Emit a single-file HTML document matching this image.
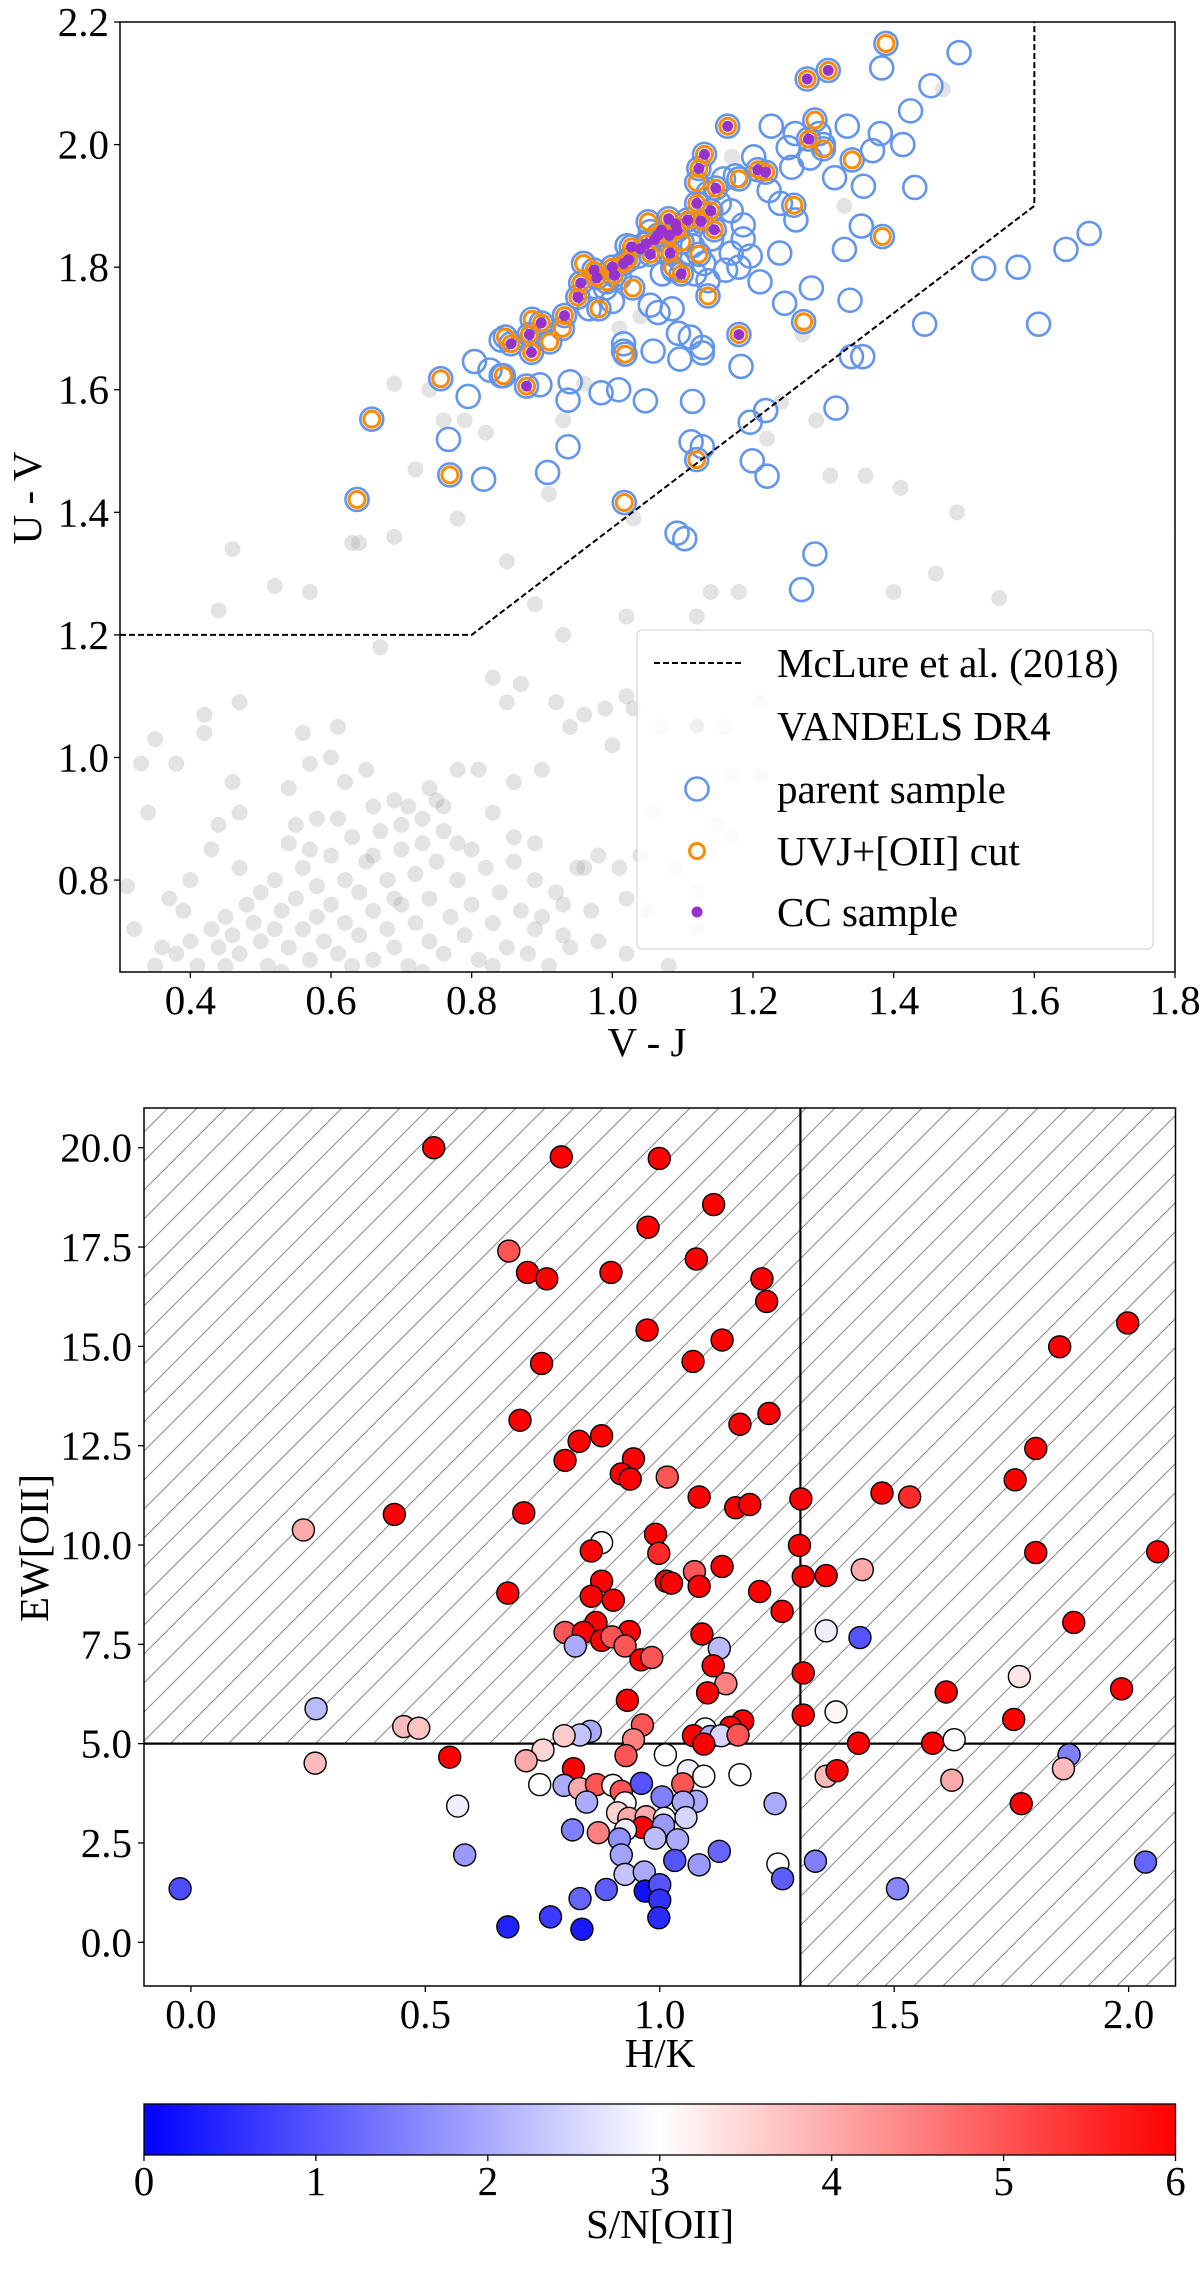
<!DOCTYPE html>
<html><head><meta charset="utf-8"><title>UVJ and H/K diagnostics</title>
<style>
html,body{margin:0;padding:0;background:#fff;}
svg{display:block;font-family:"Liberation Serif","DejaVu Serif",serif;}
</style></head>
<body>
<svg id="fig" width="1200" height="2285" viewBox="0 0 1200 2285" xmlns="http://www.w3.org/2000/svg">
<defs>
<pattern id="hatch" patternUnits="userSpaceOnUse" width="29" height="29">
<line x1="0" y1="29" x2="29" y2="0" stroke="#8a8a8a" stroke-width="1"/>
<line x1="-2" y1="2" x2="2" y2="-2" stroke="#8a8a8a" stroke-width="1"/>
<line x1="27" y1="31" x2="31" y2="27" stroke="#8a8a8a" stroke-width="1"/>
</pattern>
<linearGradient id="bwr" x1="0" y1="0" x2="1" y2="0">
<stop offset="0" stop-color="#0000ff"/><stop offset="0.5" stop-color="#ffffff"/><stop offset="1" stop-color="#ff0000"/>
</linearGradient>
<clipPath id="clipTop"><rect x="120" y="22" width="1055" height="950"/></clipPath>
<clipPath id="clipBot"><rect x="144" y="1108" width="1031.5" height="878"/></clipPath>
</defs>
</svg>
<script>
// ---------- Top panel data ----------
const grayVJ=[0.63,0.64,0.46,0.52,0.44,0.57,0.69,0.78,0.67,0.85,0.91,0.93,1.03,0.89,1.02,1.12,1.14,1.18,1.31,1.36,1.41,1.49,1.46,1.40,1.55,1.81,0.79,0.76,0.72,0.74,0.69,0.82,0.93,0.96,1.01,1.04,1.27,1.29,1.24,1.22,1.33,1.47,1.17,
0.35,0.33,0.38,0.34,0.42,0.42,0.47,0.46,0.44,0.37,0.40,0.31,0.47,0.56,0.61,0.54,0.57,0.55,0.60,0.62,0.65,0.66,0.69,0.70,0.73,0.74,0.75,0.76,0.78,0.81,0.83,0.86,0.86,0.89,0.90,0.92,0.94,0.96,0.99,1.02,1.03,1.00,0.87,0.83,0.85,1.07,1.12,1.16,1.21,1.17,1.21,1.15,1.06,0.98,0.96,1.01,1.04,1.09,1.12,1.02,1.05,0.97,0.93,0.93,0.98,0.89,1.17,1.12,1.08,1.02,
0.36,0.38,0.40,0.41,0.43,0.44,0.45,0.46,0.47,0.48,0.49,0.50,0.50,0.51,0.52,0.52,0.53,0.54,0.55,0.56,0.56,0.57,0.58,0.58,0.59,0.60,0.60,0.61,0.62,0.62,0.63,0.64,0.64,0.65,0.66,0.66,0.67,0.68,0.68,0.69,0.70,0.70,0.71,0.72,0.72,0.73,0.74,0.74,0.75,0.76,0.76,0.77,0.78,0.79,0.80,0.80,0.81,0.82,0.83,0.84,0.85,0.86,0.87,0.88,0.89,0.90,0.91,0.92,0.94,0.95,0.47,0.43,0.39,0.35,0.32,0.54,0.58,0.66,0.71,0.78,0.53,0.63,0.73,0.83,0.45,0.57,0.69,0.61];
const grayUV=[1.35,1.35,1.34,1.28,1.24,1.27,1.36,1.39,1.18,1.32,1.43,1.20,1.39,1.25,1.23,1.23,1.27,1.27,1.46,1.46,1.44,1.40,1.30,1.27,1.26,1.37,1.55,1.55,1.47,1.60,1.61,1.53,1.55,1.61,1.70,1.72,1.69,1.55,1.58,1.52,1.90,2.09,1.98,
1.03,0.99,0.99,0.91,1.07,1.04,1.09,0.96,0.89,0.77,0.80,0.79,0.82,1.04,1.05,0.95,0.99,0.89,1.00,0.96,0.98,0.92,0.93,0.89,0.90,0.95,0.93,0.92,0.98,0.98,0.91,0.96,0.87,0.86,0.98,1.09,1.05,1.07,1.08,1.10,1.08,1.02,1.12,1.13,1.09,1.05,1.05,1.05,1.09,0.97,0.97,0.89,0.91,0.84,0.82,0.82,0.84,0.82,0.78,0.77,0.75,0.75,0.76,0.71,0.70,0.72,0.87,0.72,0.66,0.68,
0.69,0.68,0.70,0.66,0.72,0.69,0.74,0.71,0.68,0.76,0.73,0.70,0.78,0.66,0.72,0.80,0.75,0.69,0.77,0.72,0.82,0.67,0.74,0.79,0.70,0.84,0.76,0.68,0.80,0.73,0.87,0.71,0.78,0.83,0.67,0.75,0.88,0.72,0.80,0.69,0.85,0.76,0.66,0.81,0.73,0.86,0.70,0.77,0.83,0.68,0.88,0.74,0.80,0.71,0.85,0.76,0.67,0.82,0.73,0.78,0.69,0.83,0.75,0.68,0.80,0.74,0.66,0.78,0.69,0.82,0.91,0.85,0.75,0.66,0.72,0.86,0.90,0.84,0.92,0.86,0.65,0.66,0.65,0.66,0.66,0.85,0.77,0.90];
const parentVJ=[1.493,1.383,1.453,1.424,1.413,1.334,1.381,1.37,1.357,1.43,1.316,1.226,1.26,1.25,1.255,1.281,1.294,1.3,1.201,1.223,1.239,1.261,1.238,1.33,1.354,1.338,1.283,1.245,1.21,1.196,1.444,1.528,1.577,1.645,1.678,1.606,1.34,1.356,1.318,1.218,1.196,1.183,1.199,1.22,1.288,1.269,1.092,1.103,1.112,1.128,1.114,1.047,1.009,0.984,0.937,0.94,0.897,0.937,0.908,0.817,0.767,0.795,0.804,0.826,0.842,0.842,1.016,1.016,1.058,1.065,1.085,1.054,1.094,1.111,1.096,1.128,1.128,1.117,1.136,1.161,1.18,1.169,1.186,1.186,1.169,1.152,1.136,1.158,1.175,1.141,1.13,1.087,1.071,1.076,1.087,1.054,1.049,1.0,0.99,1.021,1.037,1.01,0.967,1.109,1.114];
const parentUV=[2.15,2.125,2.096,2.055,2.0,2.03,2.018,1.99,1.932,1.93,1.946,2.03,2.018,1.995,1.963,1.978,2.018,2.0,1.98,1.925,1.904,1.877,1.823,1.829,1.867,1.746,1.766,1.741,1.776,1.818,1.707,1.798,1.8,1.829,1.855,1.707,1.654,1.654,1.57,1.566,1.547,1.638,1.484,1.459,1.332,1.274,1.366,1.357,1.515,1.507,1.581,1.582,1.6,1.595,1.583,1.613,1.608,1.507,1.465,1.454,1.519,1.589,1.646,1.632,1.623,1.681,1.675,1.663,1.663,1.726,1.732,1.738,1.692,1.686,1.65,1.669,1.66,1.789,1.778,1.795,1.8,1.823,1.846,1.869,1.892,1.904,1.921,1.944,1.949,1.846,1.806,1.795,1.789,1.823,1.858,1.858,1.841,1.744,1.766,1.835,1.818,1.783,1.732,1.87,1.835];
const cutVJ=[1.389,1.277,1.307,1.164,1.288,1.279,1.3,1.341,1.131,1.123,1.12,1.147,1.18,1.207,1.218,1.258,1.384,1.12,1.126,1.14,1.145,1.107,1.123,1.136,1.18,1.272,1.051,1.08,1.065,1.081,1.092,1.048,1.054,1.082,1.099,1.098,1.086,1.027,1.023,1.016,1.029,1.0,1.003,0.992,0.974,0.978,0.959,0.955,0.951,0.981,0.932,0.929,0.911,0.899,0.886,0.882,0.885,0.856,0.848,0.845,0.878,0.756,0.658,0.769,0.637,1.017,1.018,1.12];
const cutUV=[2.165,2.107,2.121,2.03,2.04,2.009,1.993,1.975,1.984,1.961,1.938,1.929,1.944,1.959,1.955,1.901,1.85,1.904,1.875,1.892,1.861,1.877,1.821,1.753,1.69,1.711,1.874,1.879,1.852,1.852,1.86,1.838,1.821,1.823,1.841,1.789,1.799,1.833,1.812,1.806,1.766,1.8,1.787,1.776,1.795,1.783,1.806,1.774,1.751,1.732,1.721,1.7,1.678,1.709,1.715,1.69,1.661,1.675,1.686,1.623,1.606,1.618,1.552,1.461,1.421,1.416,1.658,1.486];
const ccVJ=[1.277,1.307,1.164,1.279,1.131,1.123,1.147,1.207,1.218,1.12,1.126,1.14,1.145,1.107,1.18,1.08,1.065,1.081,1.092,1.048,1.054,1.082,1.098,1.027,1.023,1.016,1.0,1.003,0.974,0.978,0.955,0.951,0.932,0.899,0.882,0.885,0.856,0.878,1.06,1.07,1.04,1.09];
const ccUV=[2.107,2.121,2.03,2.009,1.984,1.961,1.929,1.959,1.955,1.904,1.875,1.892,1.861,1.877,1.69,1.879,1.852,1.852,1.86,1.838,1.821,1.823,1.789,1.833,1.812,1.806,1.8,1.787,1.795,1.783,1.774,1.751,1.721,1.709,1.69,1.661,1.675,1.606,1.845,1.86,1.83,1.87];
const boundaryVJ=[0.3,0.8,1.6,1.6];
const boundaryUV=[1.2,1.2,1.9,2.2];
const topXTicks=[0.4,0.6,0.8,1.0,1.2,1.4,1.6,1.8];
const topXTickLabels=["0.4","0.6","0.8","1.0","1.2","1.4","1.6","1.8"];
const topYTicks=[0.8,1.0,1.2,1.4,1.6,1.8,2.0,2.2];
const topYTickLabels=["0.8","1.0","1.2","1.4","1.6","1.8","2.0","2.2"];

// ---------- Bottom panel data ----------
const hkVals=[0.518,0.79,0.999,1.115,0.975,0.678,0.718,0.759,0.896,1.078,1.218,1.228,1.998,1.853,0.973,1.133,1.071,0.748,0.702,1.233,1.171,0.828,0.876,0.798,0.944,0.918,0.937,1.016,1.084,1.162,1.192,1.802,1.758,1.474,1.533,1.301,0.434,0.71,0.24,0.876,0.854,0.991,0.998,1.298,1.802,2.062,1.432,1.133,1.074,1.014,1.025,1.084,0.876,1.306,1.355,1.213,0.676,0.854,0.901,1.261,1.883,0.864,0.798,0.837,0.935,1.09,1.355,1.427,0.82,0.876,0.898,0.926,0.96,0.983,1.127,1.114,1.306,1.767,1.141,1.102,1.611,1.985,0.931,0.267,1.376,1.306,1.755,1.177,0.963,1.151,1.097,0.454,0.486,0.852,0.83,0.796,0.944,1.072,1.108,1.131,1.167,1.094,1.424,1.582,1.628,1.873,0.552,0.751,0.928,1.012,0.265,0.715,1.061,1.094,1.171,0.816,1.049,1.355,1.378,1.861,1.623,0.744,0.796,0.829,0.865,0.9,0.918,0.961,1.005,1.078,1.05,0.844,0.926,0.569,1.246,1.771,0.91,0.934,0.971,1.01,1.056,0.963,0.814,0.869,0.927,1.008,0.914,0.99,1.038,0.584,0.918,1.032,1.127,1.252,1.332,2.036,1.084,0.926,0.967,1.262,-0.023,0.886,0.969,1.0,1.0,0.83,1.507,0.998,0.767,0.676,0.834];
const ewVals=[20.0,19.77,19.73,18.57,18.0,17.4,16.86,16.7,16.86,17.2,16.7,16.13,15.59,14.99,15.41,15.16,14.62,14.57,13.14,13.31,13.04,12.61,12.75,12.13,12.17,11.79,11.66,11.71,11.21,10.94,11.02,12.43,11.64,11.31,11.21,11.16,10.77,10.81,10.38,10.06,9.85,10.27,9.79,9.99,9.81,9.83,9.38,9.46,9.33,9.09,9.04,8.96,9.09,9.21,9.23,8.83,8.79,8.71,8.61,8.33,8.05,8.05,7.8,7.8,7.82,7.76,7.84,7.67,7.46,7.6,7.69,7.46,7.11,7.17,7.4,6.96,6.78,6.69,6.51,6.28,6.3,6.38,6.09,5.88,5.8,5.72,5.61,5.57,5.47,5.41,5.37,5.43,5.39,5.31,5.22,5.2,5.1,5.2,5.18,5.2,5.22,4.99,5.01,5.01,5.1,4.72,4.66,4.84,4.7,4.72,4.51,4.57,4.32,4.18,4.22,4.37,3.99,4.18,4.32,4.37,4.08,3.97,3.95,3.87,3.97,3.95,3.8,4.0,3.66,3.55,3.53,3.53,3.51,3.43,3.49,3.49,3.26,3.12,3.16,3.12,3.14,2.89,2.83,2.76,2.83,2.95,2.6,2.62,2.58,2.2,2.2,2.06,2.29,1.97,2.04,2.02,1.95,1.71,1.77,1.6,1.35,1.33,1.29,1.45,1.06,1.1,1.35,0.62,0.64,0.39,0.33];
const snVals=[6,6,6,6,6,5,6,6,6,6,6,6,6,6,6,6,6,6,6,6,6,6,6,6,6,6,6,5,6,6,6,6,6,6,5.5,6,6,6,4,3,6,6,5.5,6,6,6,4,6,5,6,6,6,6,6,6,6,6,6,6,6,6,6,5,6,6,6,2.8,1,2,6,5,5,6,5,2.2,6,6,3.3,4.5,6,6,6,6,2.2,3.1,6,6,6,5,6,3,3.8,3.7,2,2.3,3.6,4.5,6,2,2.5,5,6,6,6,3,1.5,6,3.5,5,3,3.8,4,2.8,3,3,6,5,3.8,6,3.8,4,3,2,4,5,3,5,1,1.5,2,2,2,3,2.8,2,6,3.5,4,4,3,2.5,6,1.5,4.5,2.8,1.8,1.7,2.2,2,1.8,1.9,1,1.2,3,1.5,1.2,1.8,2.3,2,1.1,0.9,1.1,0.2,1.0,0.6,1.2,1.6,0.5,0.7,0.4,0.3];
const botXTicks=[0.0,0.5,1.0,1.5,2.0];
const botXTickLabels=["0.0","0.5","1.0","1.5","2.0"];
const botYTicks=[0,2.5,5,7.5,10,12.5,15,17.5,20];
const botYTickLabels=["0.0","2.5","5.0","7.5","10.0","12.5","15.0","17.5","20.0"];
const cutHK=1.3;
const cutEW=5.0;
const cbTicks=[0,1,2,3,4,5,6];
const cbTickLabels=["0","1","2","3","4","5","6"];

// ---------- drawing ----------
const NS="http://www.w3.org/2000/svg";
const svg=document.getElementById('fig');
function mk(tag,attrs,parent){const e=document.createElementNS(NS,tag);for(const k in attrs)e.setAttribute(k,attrs[k]);(parent||svg).appendChild(e);return e;}

// Top axes
const T={x0:120,x1:1175,y0:22,y1:972,xmin:0.3,xmax:1.8,ymin:0.65,ymax:2.2};
const tx=v=>T.x0+(v-T.xmin)/(T.xmax-T.xmin)*(T.x1-T.x0);
const ty=v=>T.y1-(v-T.ymin)/(T.ymax-T.ymin)*(T.y1-T.y0);
const gTop=mk('g',{'clip-path':'url(#clipTop)'});


for(let i=0;i<grayVJ.length;i++){
  const c=mk('circle',{cx:tx(grayVJ[i]),cy:ty(grayUV[i]),r:8,fill:'#9a9a9a','fill-opacity':0.28},gTop);
  
  
}
const allPVJ=parentVJ.concat(cutVJ), allPUV=parentUV.concat(cutUV);
for(let i=0;i<allPVJ.length;i++){
  const c=mk('circle',{cx:tx(allPVJ[i]),cy:ty(allPUV[i]),r:11.5,fill:'none',stroke:'#6495ed','stroke-width':2.6},gTop);
  
  
}
for(let i=0;i<cutVJ.length;i++){
  const c=mk('circle',{cx:tx(cutVJ[i]),cy:ty(cutUV[i]),r:8,fill:'none',stroke:'#ff8c00','stroke-width':3},gTop);
  
  
}
for(let i=0;i<ccVJ.length;i++){
  const c=mk('circle',{cx:tx(ccVJ[i]),cy:ty(ccUV[i]),r:5.5,fill:'#9932cc'},gTop);
  
  
}
let bpts=boundaryVJ.map((v,i)=>tx(v)+','+ty(boundaryUV[i])).join(' ');
const bl=mk('polyline',{points:bpts,fill:'none',stroke:'#000','stroke-width':2,'stroke-dasharray':'6,3'},gTop);



const frT=mk('rect',{x:T.x0,y:T.y0,width:T.x1-T.x0,height:T.y1-T.y0,fill:'none',stroke:'#000','stroke-width':1.5});


topXTicks.forEach((v,i)=>{
  const x=tx(v);
  const l=mk('line',{x1:x,y1:T.y1,x2:x,y2:T.y1+6,stroke:'#000','stroke-width':1.3});
  
  
  const t=mk('text',{x:x,y:1014,'font-size':41,'text-anchor':'middle'});t.textContent=topXTickLabels[i];
  
  
});
topYTicks.forEach((v,i)=>{
  const y=ty(v);
  const l=mk('line',{x1:T.x0-6,y1:y,x2:T.x0,y2:y,stroke:'#000','stroke-width':1.3});
  
  
  const t=mk('text',{x:109,y:y+14,'font-size':41,'text-anchor':'end'});t.textContent=topYTickLabels[i];
  
  
});
let t1=mk('text',{x:647,y:1056,'font-size':41,'text-anchor':'middle'});t1.textContent='V - J';


let t2=mk('text',{x:0,y:0,'font-size':41,'text-anchor':'middle',transform:'translate(41,498) rotate(-90)'});t2.textContent='U - V';



// Legend
const lg=mk('g',{});


mk('rect',{x:637,y:630,width:516,height:319,rx:5,fill:'#fff','fill-opacity':0.85,stroke:'#d8d8d8','stroke-width':1.3},lg);
const legY=[663,726,789,851,912];
const legTxt=['McLure et al. (2018)','VANDELS DR4','parent sample','UVJ+[OII] cut','CC sample'];
mk('line',{x1:654,y1:legY[0],x2:741,y2:legY[0],stroke:'#000','stroke-width':2,'stroke-dasharray':'6,3'},lg);
mk('circle',{cx:697,cy:legY[1],r:7,fill:'#9a9a9a','fill-opacity':0.12},lg);
mk('circle',{cx:697,cy:legY[2],r:11.5,fill:'none',stroke:'#6495ed','stroke-width':2.6},lg);
mk('circle',{cx:697,cy:legY[3],r:7.5,fill:'none',stroke:'#ff8c00','stroke-width':3},lg);
mk('circle',{cx:697,cy:legY[4],r:5.5,fill:'#9932cc'},lg);
legTxt.forEach((s,i)=>{
  const t=mk('text',{x:777,y:legY[i]+14,'font-size':41},lg);t.textContent=s;
  
  
});

// Bottom axes
const B={x0:144,x1:1175.5,y0:1108,y1:1986,xmin:-0.1,xmax:2.1,ymin:-1.1,ymax:21.0};
const bx=v=>B.x0+(v-B.xmin)/(B.xmax-B.xmin)*(B.x1-B.x0);
const by=v=>B.y1-(v-B.ymin)/(B.ymax-B.ymin)*(B.y1-B.y0);
const gB=mk('g',{'clip-path':'url(#clipBot)'});


const cx=bx(cutHK), cy=by(cutEW);
const h1=mk('rect',{x:B.x0,y:B.y0,width:B.x1-B.x0,height:cy-B.y0,fill:'url(#hatch)'},gB);


const h2=mk('rect',{x:cx,y:cy,width:B.x1-cx,height:B.y1-cy,fill:'url(#hatch)'},gB);


const vl=mk('line',{x1:cx,y1:B.y0,x2:cx,y2:B.y1,stroke:'#000','stroke-width':2.2},gB);


const hl=mk('line',{x1:B.x0,y1:cy,x2:B.x1,y2:cy,stroke:'#000','stroke-width':2.2},gB);


function bwr(v){let t=Math.max(0,Math.min(1,v/6));let r,g,b;
  if(t<0.5){r=g=Math.round(2*t*255);b=255;}else{r=255;g=b=Math.round((2-2*t)*255);}
  return 'rgb('+r+','+g+','+b+')';}
for(let i=0;i<hkVals.length;i++){
  const c=mk('circle',{cx:bx(hkVals[i]),cy:by(ewVals[i]),r:11,fill:bwr(snVals[i]),stroke:'#000','stroke-width':1.4},gB);
  
  
}
const frB=mk('rect',{x:B.x0,y:B.y0,width:B.x1-B.x0,height:B.y1-B.y0,fill:'none',stroke:'#000','stroke-width':1.5});


botXTicks.forEach((v,i)=>{
  const x=bx(v);
  const l=mk('line',{x1:x,y1:B.y1,x2:x,y2:B.y1+6,stroke:'#000','stroke-width':1.3});
  
  
  const t=mk('text',{x:x,y:2028,'font-size':41,'text-anchor':'middle'});t.textContent=botXTickLabels[i];
  
  
});
botYTicks.forEach((v,i)=>{
  const y=by(v);
  const l=mk('line',{x1:B.x0-6,y1:y,x2:B.x0,y2:y,stroke:'#000','stroke-width':1.3});
  
  
  const t=mk('text',{x:132,y:y+14,'font-size':41,'text-anchor':'end'});t.textContent=botYTickLabels[i];
  
  
});
let t3=mk('text',{x:660,y:2067,'font-size':41,'text-anchor':'middle'});t3.textContent='H/K';


let t4=mk('text',{x:0,y:0,'font-size':41,'text-anchor':'middle',transform:'translate(48,1548) rotate(-90)'});t4.textContent='EW[OII]';



// Colorbar
const CB={x0:144,x1:1175.5,y0:2104,y1:2155};
const cb=mk('rect',{x:CB.x0,y:CB.y0,width:CB.x1-CB.x0,height:CB.y1-CB.y0,fill:'url(#bwr)',stroke:'#000','stroke-width':1.3});


const cbx=v=>CB.x0+v/6*(CB.x1-CB.x0);
cbTicks.forEach((v,i)=>{
  const x=cbx(v);
  const l=mk('line',{x1:x,y1:CB.y1,x2:x,y2:CB.y1+6,stroke:'#000','stroke-width':1.3});
  
  
  const t=mk('text',{x:x,y:2195,'font-size':41,'text-anchor':'middle'});t.textContent=cbTickLabels[i];
  
  
});
let t5=mk('text',{x:660,y:2238,'font-size':41,'text-anchor':'middle'});t5.textContent='S/N[OII]';


</script>
</body></html>
